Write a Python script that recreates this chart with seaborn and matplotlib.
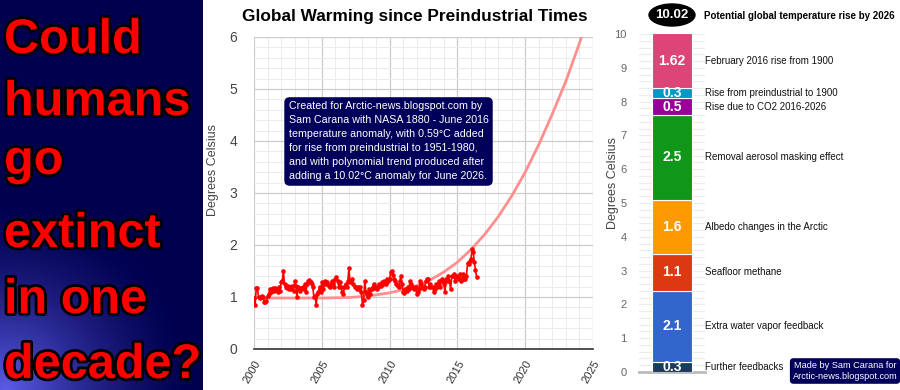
import numpy as np
import pandas as pd
import matplotlib
matplotlib.use("Agg")
import matplotlib.pyplot as plt
import matplotlib.patheffects as pe
from matplotlib.patches import Ellipse
from matplotlib.ticker import MultipleLocator
import seaborn as sns

# Monthly rise since preindustrial (deg C), Jan 2000 - Jun 2016
temps_2000_2003 = [
    0.98, 0.85, 1.17, 1.17, 1.00, 0.98, 1.00, 1.02, 1.00, 0.90, 0.90, 0.92,
    1.02, 1.05, 1.15, 1.10, 1.15, 1.17, 1.12, 1.18, 1.15, 1.10, 1.20, 1.12,
    1.28, 1.30, 1.50, 1.25, 1.20, 1.18, 1.22, 1.15, 1.20, 1.16, 1.22, 1.12,
    1.30, 1.22, 1.00, 1.20, 1.15, 1.12, 1.18, 1.20, 1.15, 1.25, 1.10, 1.25,
]
temps_2004_2007 = [
    1.30, 1.32, 1.28, 1.25, 1.20, 1.00, 1.02, 0.85, 1.05, 1.10, 1.20, 1.10,
    1.28, 1.15, 1.25, 1.30, 1.25, 1.28, 1.22, 1.20, 1.25, 1.30, 1.25, 1.20,
    1.35, 1.38, 1.30, 1.20, 1.28, 1.20, 1.10, 1.05, 1.20, 1.25, 1.20, 1.30,
    1.55, 1.28, 1.30, 1.35, 1.25, 1.20, 1.20, 1.15, 1.20, 1.15, 1.20, 1.10,
]
temps_2008_2011 = [
    0.85, 0.95, 1.30, 1.10, 1.05, 1.00, 1.15, 1.05, 1.15, 1.20, 1.25, 1.18,
    1.20, 1.15, 1.20, 1.25, 1.22, 1.28, 1.25, 1.30, 1.28, 1.25, 1.35, 1.30,
    1.35, 1.48, 1.50, 1.42, 1.35, 1.30, 1.25, 1.22, 1.20, 1.30, 1.40, 1.25,
    1.10, 1.08, 1.15, 1.12, 1.20, 1.15, 1.30, 1.25, 1.20, 1.20, 1.15, 1.20,
]
temps_2012_2016 = [
    1.05, 1.10, 1.15, 1.30, 1.25, 1.20, 1.15, 1.20, 1.30, 1.35, 1.35, 1.20,
    1.25, 1.20, 1.20, 1.10, 1.15, 1.25, 1.20, 1.25, 1.30, 1.20, 1.35, 1.30,
    1.25, 1.10, 1.35, 1.30, 1.40, 1.30, 1.15, 1.40, 1.40, 1.45, 1.30, 1.40,
    1.38, 1.35, 1.45, 1.30, 1.35, 1.45, 1.35, 1.35, 1.40, 1.65, 1.63, 1.70,
    1.73, 1.92, 1.87, 1.67, 1.52, 1.38,
]
anomaly_2026 = 10.02

# polynomial trend line as drawn in the chart, read at each year
trend_years = list(range(2000, 2026))
trend_rise = [0.99, 0.98, 0.98, 0.98, 0.98, 0.98, 0.985, 0.99, 1.01, 1.04,
              1.08, 1.14, 1.22, 1.33, 1.48, 1.67, 1.91, 2.20, 2.54, 2.94,
              3.40, 3.93, 4.52, 5.15, 5.88, 6.70]

# Stacked bar: contributions to potential rise by 2026 (bottom to top)
factors = ["Further feedbacks", "Extra water vapor feedback", "Seafloor methane",
           "Albedo changes in the Arctic", "Removal aerosol masking effect",
           "Rise due to CO2 2016-2026", "Rise from preindustrial to 1900",
           "February 2016 rise from 1900"]
factor_values = [0.3, 2.1, 1.1, 1.6, 2.5, 0.5, 0.3, 1.62]
factor_colors = ["#1b3a5e", "#3366cc", "#dc3912", "#ff9900", "#109618",
                 "#990099", "#0099c6", "#dd4477"]

banner_lines = ["Could", "humans", "go", "extinct", "in one", "decade?"]

temps = temps_2000_2003 + temps_2004_2007 + temps_2008_2011 + temps_2012_2016
years = 2000 + np.arange(len(temps)) / 12
df = pd.DataFrame({"year": years, "rise": temps})
trend = pd.DataFrame({"year": trend_years, "rise": trend_rise})

sns.set_theme(style="white")
plt.rcParams['font.family'] = ['Liberation Sans', 'DejaVu Sans']

fig = plt.figure(figsize=(9, 3.9), dpi=100)

# left banner with dark blue background and glow
axL = fig.add_axes([0, 0, 203 / 900, 1])
h, w = 390, 203
yy, xx = np.mgrid[0:h, 0:w]
glow = np.clip(1 - np.hypot(xx - 5, yy - 390) / 190, 0, 1) ** 1.5
img = np.zeros((h, w, 3))
img[..., 0] = 0.36 * glow
img[..., 1] = 0.36 * glow
img[..., 2] = 0.31 + 0.6 * glow
axL.imshow(np.clip(img, 0, 1), aspect='auto')
axL.axis('off')

baselines = [53, 115, 174, 247, 313, 378]
for line, yb in zip(banner_lines, baselines):
    fig.text(4 / 900, 1 - yb / 390, line, color='red', fontsize=35,
             fontweight='bold', ha='left', va='baseline',
             path_effects=[pe.withStroke(linewidth=4, foreground='black')])

# middle chart
ax = fig.add_axes([254 / 900, 41 / 390, 339 / 900, 312 / 390])
sns.lineplot(data=trend, x="year", y="rise", ax=ax, color='#ff8f8f', lw=2, zorder=2)
sns.lineplot(data=df, x="year", y="rise", ax=ax, color='red', lw=1.2,
             marker='o', markersize=3.3, markeredgewidth=0, zorder=3)
ax.set_xlim(2000, 2025)
ax.set_ylim(0, 6)
ax.xaxis.set_major_locator(MultipleLocator(5))
ax.xaxis.set_minor_locator(MultipleLocator(1))
ax.yaxis.set_major_locator(MultipleLocator(1))
ax.yaxis.set_minor_locator(MultipleLocator(0.2))
ax.grid(which='major', color='#cccccc', lw=0.9)
ax.grid(which='minor', color='#ebebeb', lw=0.7)
for s in ['top', 'right', 'left']:
    ax.spines[s].set_visible(False)
ax.spines['bottom'].set_color('#333333')
ax.spines['bottom'].set_linewidth(1.2)
ax.tick_params(axis='x', which='both', length=0, labelsize=8, labelcolor='#333333', pad=7)
ax.tick_params(axis='y', which='both', length=0, labelsize=10, labelcolor='#444444', pad=12)
for lab in ax.get_xticklabels():
    lab.set_rotation(60)
    lab.set_ha('right')
    lab.set_rotation_mode('anchor')
ax.set_xlabel('')
ax.set_ylabel('Degrees Celsius', fontsize=9, color='#444444')
ax.yaxis.set_label_coords(-0.103, 0.574)

fig.text(415 / 900, 1 - 16 / 390, 'Global Warming since Preindustrial Times',
         ha='center', va='center', fontsize=12.4, fontweight='bold', color='black')

note = ("Created for Arctic-news.blogspot.com by\n"
        "Sam Carana with NASA 1880 - June 2016\n"
        "temperature anomaly, with 0.59\u00b0C added\n"
        "for rise from preindustrial to 1951-1980,\n"
        "and with polynomial trend produced after\n"
        "adding a 10.02\u00b0C anomaly for June 2026.")
ax.text(2002.55, 4.76, note, ha='left', va='top', color='white', fontsize=7.7,
        linespacing=1.5, zorder=5,
        bbox=dict(boxstyle='round,pad=0.4,rounding_size=0.5', fc='#00005a', ec='none'))

# right stacked bar
axB = fig.add_axes([639 / 900, 18 / 390, 66 / 900, 338 / 390])
bottom = 0
for name, val, col in zip(factors, factor_values, factor_colors):
    axB.bar(0, val, bottom=bottom, width=0.606, color=col, edgecolor='white', linewidth=0.8, zorder=3)
    axB.text(0, bottom + val / 2, f"{val:g}", ha='center', va='center', color='white',
             fontweight='bold', fontsize=10, zorder=4)
    axB.text(1.0, bottom + val / 2, name, transform=axB.get_yaxis_transform(),
             ha='left', va='center', fontsize=7, color='#111111', clip_on=False)
    bottom += val
axB.set_xlim(-0.5, 0.5)
axB.set_ylim(0, 10)
axB.yaxis.set_major_locator(MultipleLocator(1))
axB.yaxis.set_minor_locator(MultipleLocator(0.2))
axB.grid(axis='y', which='both', color='#ececec', lw=0.8, zorder=0)
axB.set_xticks([])
for s in ['top', 'right', 'left']:
    axB.spines[s].set_visible(False)
axB.spines['bottom'].set_color('#bbbbbb')
axB.spines['bottom'].set_linewidth(2)
axB.tick_params(axis='y', which='both', length=0, labelsize=8, labelcolor='#666666', pad=9)
fig.text(613 / 900, 1 - 183 / 390, 'Degrees Celsius', rotation=90, ha='center',
         va='center', fontsize=9, color='#444444')

fig.add_artist(Ellipse((672 / 900, 1 - 15 / 390), 46 / 900, 22 / 390,
                       transform=fig.transFigure, color='black'))
fig.text(672 / 900, 1 - 15 / 390, f"{anomaly_2026:.2f}", ha='center', va='center',
         color='white', fontweight='bold', fontsize=9.5)
fig.text(704 / 900, 1 - 16 / 390, 'Potential global temperature rise by 2026',
         ha='left', va='center', fontsize=7, fontweight='bold', color='black')

fig.text(845 / 900, 1 - 371 / 390, "Made by Sam Carana for\nArctic-news.blogspot.com",
         ha='center', va='center', color='white', fontsize=6.6, linespacing=1.3,
         bbox=dict(boxstyle='round,pad=0.3,rounding_size=0.4', fc='#00005a', ec='none'))

fig.savefig("out.png", dpi=100)
